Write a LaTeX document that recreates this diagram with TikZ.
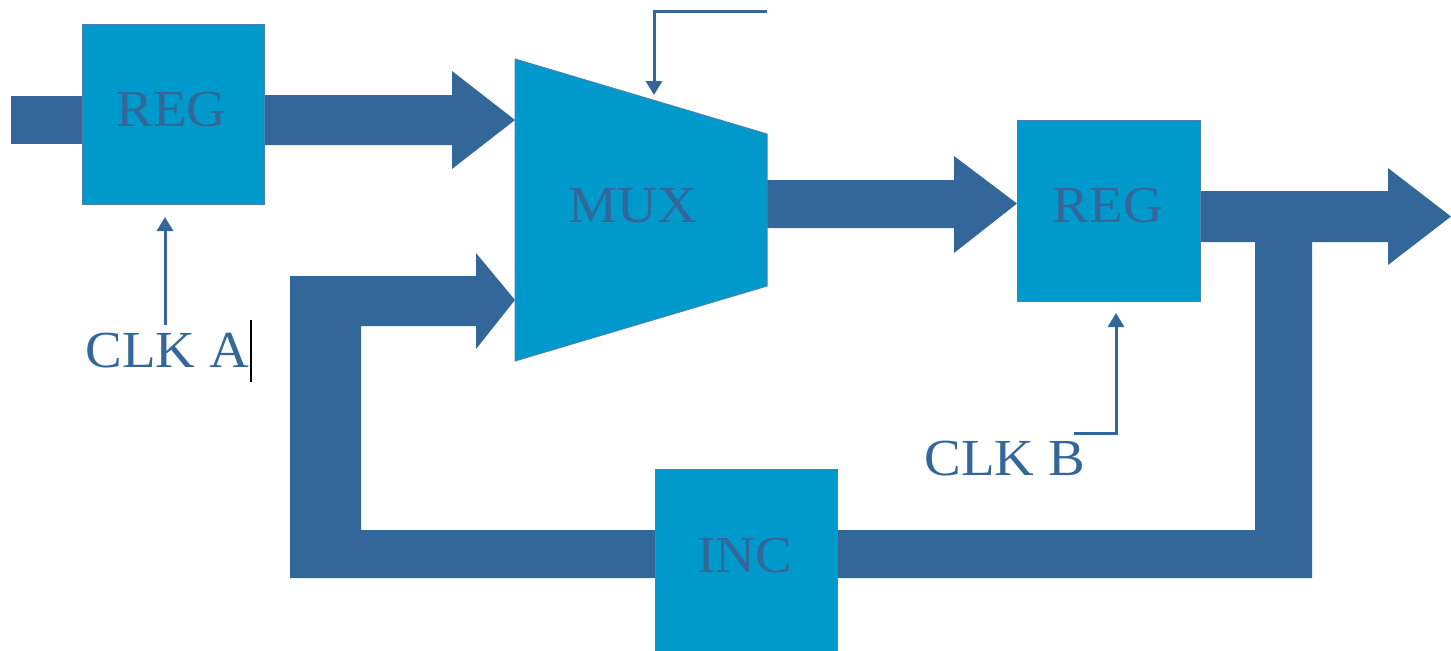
\documentclass[tikz,border=0pt]{standalone}
\usepackage{fontspec}
\setmainfont{Liberation Serif}
\usetikzlibrary{arrows.meta}
\definecolor{darkb}{HTML}{336699}
\definecolor{lightb}{HTML}{0099CC}
\definecolor{edgeb}{HTML}{4A80B4}
\tikzset{
  blockarrow/.style={fill=darkb, draw=none},
  regbox/.style={fill=lightb, draw=edgeb, line width=0.5pt, inner sep=0pt},
  lbl/.style={text=darkb, inner sep=0pt, font=\fontsize{26pt}{30pt}\selectfont},
  thinarrow/.style={draw=darkb, line width=1.5pt, -{Triangle[width=8pt,length=7pt]}},
}
\newcommand{\wide}[1]{\scalebox{1.058}[1]{#1}}
\begin{document}
\begin{tikzpicture}[x=0.5pt, y=-0.5pt]
\useasboundingbox (0,0) rectangle (1451,650);
% coordinates
\coordinate (inL) at (11,96);
\coordinate (m1) at (515,120);
\coordinate (m2) at (515,300);
% block arrows (behind boxes)
\fill[blockarrow] (11,96) rectangle (100,144);
\fill[blockarrow] (250,95) -- (452,95) -- (452,71) -- (m1) -- (452,169) -- (452,145) -- (250,145) -- cycle;
\fill[blockarrow] (m2) -- (476,253) -- (476,276) -- (290,276) -- (290,578) -- (1312,578) -- (1312,242)
   -- (1255,242) -- (1255,530) -- (361,530) -- (361,326) -- (476,326) -- (476,349) -- cycle;
\fill[blockarrow] (760,180) -- (954,180) -- (954,156) -- (1017,203.5) -- (954,253) -- (954,228) -- (760,228) -- cycle;
\fill[blockarrow] (1190,191) -- (1388,191) -- (1388,168) -- (1451,216.5) -- (1388,265) -- (1388,242) -- (1190,242) -- cycle;
% boxes
\node[regbox, minimum width=91pt, minimum height=90pt] (reg1) at (173,114) {};
\node[regbox, minimum width=91.5pt, minimum height=90.5pt] (reg2) at (1108.5,210.5) {};
\node[regbox, minimum width=91pt, minimum height=100pt] (inc) at (746,569) {};
\draw[fill=lightb, draw=edgeb, line width=0.5pt] (515,59) -- (767,134) -- (767,286) -- (515,361) -- cycle;
\coordinate (muxc) at (641,210);
% labels
\node[lbl, anchor=base] (t1) at (171.5,126) {\wide{REG}};
\node[lbl, anchor=base] (t2) at (1108,222) {\wide{REG}};
\node[lbl, anchor=base] (tm) at (633,222) {\wide{MUX}};
\node[lbl, anchor=base] (ti) at (744.5,572) {\wide{INC}};
\node[lbl, anchor=base west] (clka) at (85,367) {\wide{CLK A}};
\node[lbl, anchor=base west] (clkb) at (924,475) {\wide{CLK B}};
% thin arrows
\coordinate (ca) at (165,325);
\coordinate (cat) at (165,217);
\draw[thinarrow] (ca) -- (cat);
\coordinate (sel0) at (767,11);
\coordinate (selt) at (654,95);
\draw[thinarrow] (sel0) -- (654,11) -- (selt);
\coordinate (cb) at (1074,433);
\coordinate (cbt) at (1116,313);
\draw[thinarrow] (cb) -- (1116,433) -- (cbt);
% text cursor
\draw[black, line width=0.6pt] (251,320) -- (251,382);
\end{tikzpicture}
\end{document}
